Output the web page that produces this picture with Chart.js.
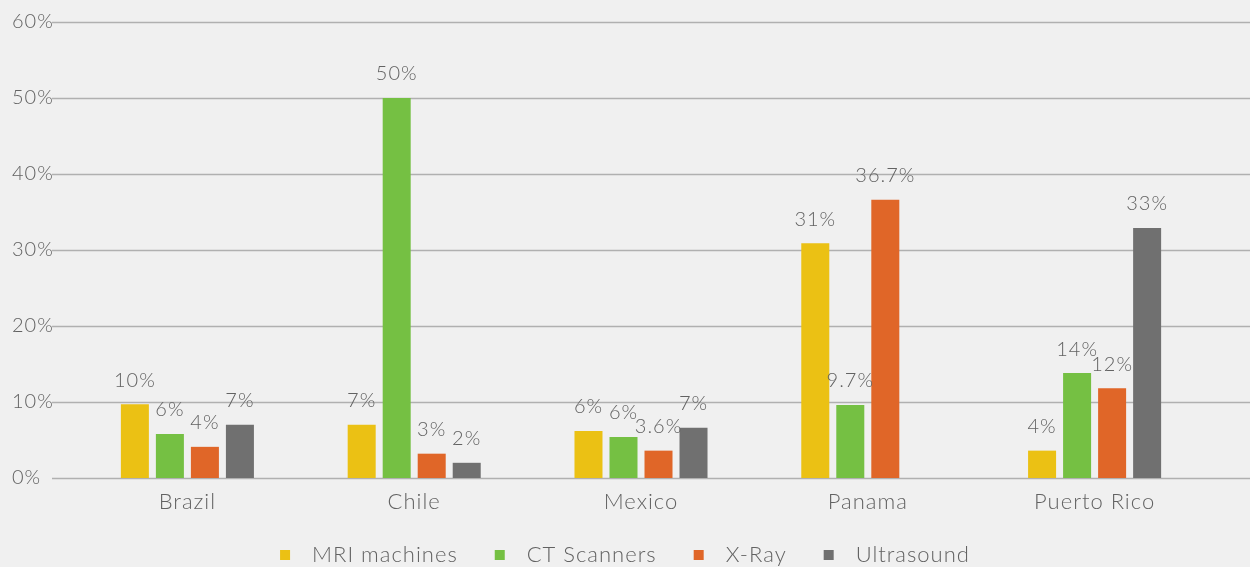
<!DOCTYPE html>
<html><head><meta charset="utf-8">
<script src="https://cdn.jsdelivr.net/npm/chart.js@4"></script>
<style>html,body{margin:0;padding:0;background:#f0f0f0;}#wrap{width:1250px;height:567px;}</style>
</head><body><div id="wrap"><canvas id="c" width="1250" height="567"></canvas></div>
<script>
const categories = ['Brazil', 'Chile', 'Mexico', 'Panama', 'Puerto Rico'];
const seriesNames = ['MRI machines', 'CT Scanners', 'X-Ray', 'Ultrasound'];
const mriValues = [9.7, 7.0, 6.2, 30.9, 3.6];
const ctValues = [5.8, 50.0, 5.4, 9.6, 13.8];
const xrayValues = [4.1, 3.2, 3.6, 36.6, 11.8];
const usValues = [7.0, 2.0, 6.6, 0, 32.9];
const mriLabels = ['10%', '7%', '6%', '31%', '4%'];
const ctLabels = ['6%', '50%', '6%', '9.7%', '14%'];
const xrayLabels = ['4%', '3%', '3.6%', '36.7%', '12%'];
const usLabels = ['7%', '2%', '7%', '', '33%'];
const yTicks = [0, 10, 20, 30, 40, 50, 60];
const colors = ['#ebc114', '#75c043', '#e06628', '#707070'];

const FONT = 'Lato, "Open Sans", sans-serif';
const TEXT = '#626262';

const valueSets = [mriValues, ctValues, xrayValues, usValues];
const labelSets = [mriLabels, ctLabels, xrayLabels, usLabels];

const spacingPlugin = {
  id: 'spacing',
  beforeDraw(chart) { chart.ctx.letterSpacing = '1px'; }
};

const gridPlugin = {
  id: 'fullGrid',
  beforeDatasetsDraw(chart) {
    const ctx = chart.ctx, y = chart.scales.y;
    ctx.save();
    ctx.strokeStyle = '#b0b0b0';
    ctx.lineWidth = 1.5;
    yTicks.forEach(v => {
      const py = Math.round(y.getPixelForValue(v)) + 0.5;
      ctx.beginPath(); ctx.moveTo(52, py); ctx.lineTo(chart.width, py); ctx.stroke();
    });
    ctx.restore();
  }
};

const labelPlugin = {
  id: 'barLabels',
  afterDatasetsDraw(chart) {
    const ctx = chart.ctx;
    ctx.save();
    ctx.letterSpacing = '1px';
    ctx.font = '300 20px ' + FONT;
    ctx.fillStyle = TEXT;
    ctx.textAlign = 'center';
    ctx.textBaseline = 'bottom';
    chart.data.datasets.forEach((ds, i) => {
      const meta = chart.getDatasetMeta(i);
      meta.data.forEach((bar, j) => {
        const t = labelSets[i][j];
        if (t) ctx.fillText(t, bar.x, bar.y - 14);
      });
    });
    ctx.restore();
  }
};

const legendPlugin = {
  id: 'bottomLegend',
  afterDraw(chart) {
    const ctx = chart.ctx;
    ctx.save();
    ctx.letterSpacing = '1px';
    ctx.font = '300 22px ' + FONT;
    const box = 10, gapText = 22, gapItem = 37;
    let total = 0;
    const widths = seriesNames.map(n => ctx.measureText(n).width);
    widths.forEach((w, i) => { total += box + gapText + w + (i < widths.length - 1 ? gapItem : 0); });
    let x = (chart.width - total) / 2;
    const cy = 555;
    ctx.textBaseline = 'middle';
    ctx.textAlign = 'left';
    seriesNames.forEach((n, i) => {
      ctx.fillStyle = colors[i];
      ctx.fillRect(x, cy - box / 2, box, box);
      x += box + gapText;
      ctx.fillStyle = TEXT;
      ctx.fillText(n, x, cy);
      x += widths[i] + gapItem;
    });
    ctx.restore();
  }
};

new Chart(document.getElementById('c'), {
  type: 'bar',
  data: {
    labels: categories,
    datasets: seriesNames.map((n, i) => ({
      label: n,
      data: valueSets[i],
      backgroundColor: colors[i],
      borderWidth: 0,
      barPercentage: 0.8,
      categoryPercentage: 0.6175
    }))
  },
  options: {
    responsive: false,
    animation: false,
    devicePixelRatio: 1,
    layout: { padding: { left: 12, right: 42, top: 22, bottom: 0 } },
    plugins: { legend: { display: false }, tooltip: { enabled: false } },
    scales: {
      x: {
        grid: { display: false, drawTicks: false },
        border: { display: false },
        ticks: { color: TEXT, font: { family: FONT, size: 22, weight: 300 }, padding: 11 },
        afterFit(s) { s.height = 89; }
      },
      y: {
        min: 0, max: 60,
        afterBuildTicks(s) { s.ticks = yTicks.map(v => ({ value: v })); },
        grid: { display: false, drawTicks: false },
        border: { display: false },
        ticks: { color: TEXT, crossAlign: 'far', padding: 0, font: { family: FONT, size: 20, weight: 300 }, callback: v => v + '%' },
        afterFit(s) { s.width = 62; }
      }
    }
  },
  plugins: [spacingPlugin, gridPlugin, labelPlugin, legendPlugin]
});
</script></body></html>
